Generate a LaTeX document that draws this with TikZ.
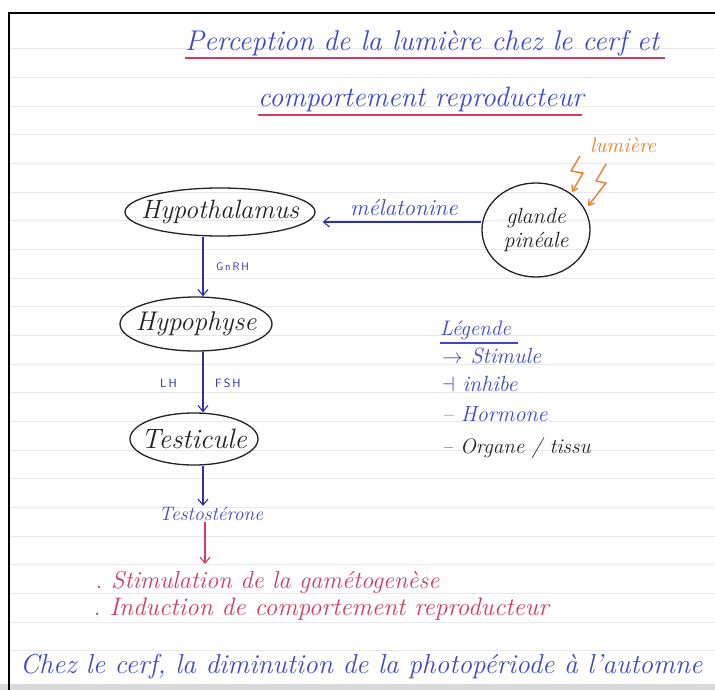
\documentclass[tikz,border=0pt]{standalone}
\usepackage{fontspec}
\usetikzlibrary{shapes.geometric,arrows.meta}
\definecolor{penblue}{HTML}{4048C8}
\definecolor{navy}{HTML}{2E2EA8}
\definecolor{penred}{HTML}{D23C5E}
\definecolor{penorange}{HTML}{F07C2C}
\definecolor{ink}{HTML}{222222}
\definecolor{ruleline}{HTML}{E8E8E8}
\newcommand{\fs}[1]{\fontsize{#1}{#1}\selectfont}
\newcommand{\zb}[1]{\makebox[0pt]{#1}}
\begin{document}
\begin{tikzpicture}[x=1pt,y=-1pt,
  organ/.style={ellipse,draw=ink,line width=1.3pt,inner sep=0pt,text=ink,font=\fs{27}\itshape},
  hw/.style={inner sep=0pt,anchor=base west},
  arr/.style={draw=navy,line width=1.1pt,-{Straight Barb[length=6pt,width=10pt]}},
  redarr/.style={draw=penred,line width=1.1pt,-{Straight Barb[length=6pt,width=10pt]}},
  bolt/.style={draw=penorange,line width=1.4pt,line join=round,-{Straight Barb[length=5pt,width=7pt]}},
  uline/.style={line width=1.2pt}]
\useasboundingbox (0,0) rectangle (715,690);
\fill[white] (0,0) rectangle (715,690);
\foreach \k in {0,...,21} \draw[ruleline,line width=1pt] (9,{49+28.65*\k}) -- (715,{49+28.65*\k});
\fill[gray!30] (0,684) rectangle (715,690);
\draw[black,line width=2.2pt] (9,690) -- (9,13) -- (715,13);

% title
\node[hw,text=penblue,font=\fs{28.5}\itshape] (t1) at (185,51) {Perception de la lumière chez le cerf et};
\draw[penred,uline] (185,58) -- (665,58);
\node[hw,text=penblue,font=\fs{28}\itshape] (t2) at (258,107) {comportement reproducteur};
\draw[penred,uline] (258,115) -- (582,115);

% light
\node[hw,text=penorange,font=\fs{21}\itshape] (lum) at (590,153) {lumière};
\draw[bolt] (580,156) -- (571,171) -- (583,173) -- (572,192);
\draw[bolt] (606,164) -- (596,181) -- (606,183) -- (588,206);

% organs
\node[organ,minimum width=190pt,minimum height=48pt,font=\fs{26.5}\itshape] (hyp) at (220,212) {\zb{Hypothalamus}};
\node[organ,minimum width=108pt,minimum height=94pt,font=\fs{22}\itshape,align=center] (pin) at (536,230) {glande\\[2pt]pinéale};
\node[organ,minimum width=152pt,minimum height=54pt] (hypo) at (196,324) {\zb{Hypophyse}};
\node[organ,minimum width=128pt,minimum height=52pt,font=\fs{28}\itshape] (test) at (194,439) {\zb{Testicule}};
\node[inner sep=1pt,text=penblue,font=\fs{19.5}\itshape] (testo) at (211,514) {Testostérone};

\coordinate (ax) at (203,0);
\coordinate (ay) at (0,222);
\coordinate (eff) at (205,564);

\draw[arr] (pin.west |- ay) -- ([xshift=7pt]hyp.east |- ay);
\node[hw,text=penblue,font=\fs{23}\itshape] (mel) at (350,215) {mélatonine};
\draw[arr] (hyp.south -| ax) -- (hypo.north -| ax);
\node[hw,text=navy,font=\fs{11}\sffamily] (gnrh) at (216,270) {G\,n\,R\,H};
\draw[arr] (hypo.south -| ax) -- (test.north -| ax);
\node[hw,text=navy,font=\fs{12}\sffamily] (lh) at (160,387) {L\,H};
\node[hw,text=navy,font=\fs{12}\sffamily] (fsh) at (215,387) {F\,S\,H};
\draw[arr] (test.south -| ax) -- (testo.north -| ax);
\draw[redarr] (testo.south -| eff) -- (eff);

% effects
\node[hw,text=penred,font=\fs{24.5}\itshape] (e1) at (95,588) {.\ Stimulation de la gamétogenèse};
\node[hw,text=penred,font=\fs{25.3}\itshape] (e2) at (93,615) {.\ Induction de comportement reproducteur};

% legend
\node[hw,text=penblue,font=\fs{21}\itshape] (leg) at (440,335) {Légende};
\draw[penblue,uline] (440,343) -- (518,343);
\node[hw,text=penblue,font=\fs{22}\itshape] (l1) at (442,363) {$\rightarrow$ Stimule};
\node[hw,text=penblue,font=\fs{22}\itshape] (l2) at (442,391) {$\dashv$ inhibe};
\node[hw,text=penblue,font=\fs{22}\itshape] (l3) at (442,421) {-- Hormone};
\node[hw,text=ink,font=\fs{21}\itshape] (l4) at (442,453) {-- Organe / tissu};

% bottom
\node[hw,text=penblue,font=\fs{27.4}\itshape] (bot) at (20,673) {Chez le cerf, la diminution de la photopériode à l'automne};
\end{tikzpicture}
\end{document}
